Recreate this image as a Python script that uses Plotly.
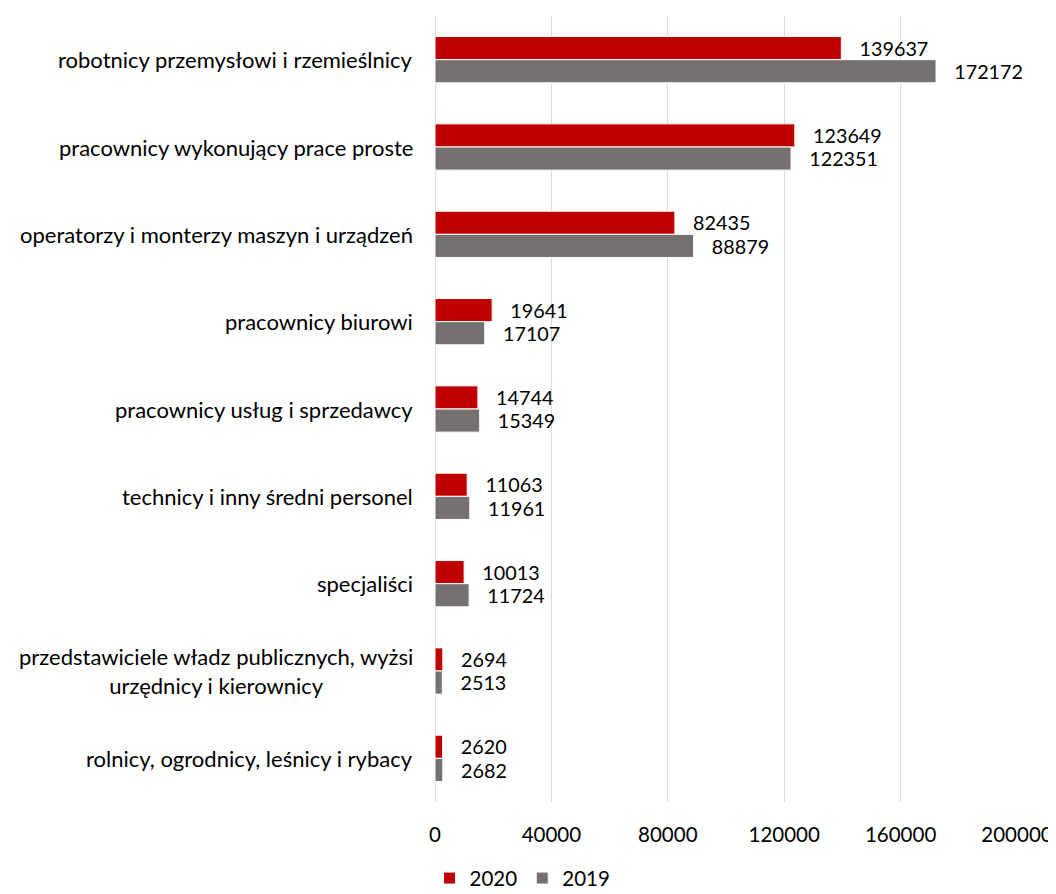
import plotly.graph_objects as go

categories = [
    "robotnicy przemysłowi i rzemieślnicy",
    "pracownicy wykonujący prace proste",
    "operatorzy i monterzy maszyn i urządzeń",
    "pracownicy biurowi",
    "pracownicy usług i sprzedawcy",
    "technicy i inny średni personel",
    "specjaliści",
    "przedstawiciele władz publicznych, wyżsi<br>urzędnicy i kierownicy",
    "rolnicy, ogrodnicy, leśnicy i rybacy",
]
values_2020 = [139637, 123649, 82435, 19641, 14744, 11063, 10013, 2694, 2620]
values_2019 = [172172, 122351, 88879, 17107, 15349, 11961, 11724, 2513, 2682]
x_ticks = [0, 40000, 80000, 120000, 160000, 200000]

FONT = "Lato"
NUM_SIZE = 20.5
pad = "\u00a0\u00a0\u00a0"

fig = go.Figure()
fig.add_trace(go.Bar(
    y=categories, x=values_2020, name="2020", orientation="h",
    marker=dict(color="#C00000", line=dict(color="white", width=1)),
    text=[pad + str(v) for v in values_2020], textposition="outside",
    textfont=dict(size=NUM_SIZE, color="#000000", family=FONT), cliponaxis=False,
))
fig.add_trace(go.Bar(
    y=categories, x=values_2019, name="2019", orientation="h",
    marker=dict(color="#767171", line=dict(color="white", width=1)),
    text=[pad + str(v) for v in values_2019], textposition="outside",
    textfont=dict(size=NUM_SIZE, color="#000000", family=FONT), cliponaxis=False,
))

for c in categories:
    fig.add_annotation(
        x=0, xref="paper", y=c, yref="y", text=c, showarrow=False,
        xanchor="right", yanchor="middle", align="center", xshift=-20,
        font=dict(family=FONT, size=22, color="#000000"),
    )

fig.update_layout(
    width=1048, height=886,
    barmode="group", bargap=0.47, bargroupgap=0.0,
    plot_bgcolor="white", paper_bgcolor="white",
    font=dict(family=FONT, size=NUM_SIZE, color="#000000"),
    margin=dict(l=427, r=39, t=8, b=92, autoexpand=False),
    showlegend=True,
    legend=dict(orientation="h", x=0.491, xref="container", xanchor="center",
                y=-0.097, yanchor="middle",
                font=dict(size=NUM_SIZE), traceorder="normal", itemwidth=30),
    xaxis=dict(range=[0, 200000], tickvals=x_ticks, ticktext=[str(t) for t in x_ticks],
               showgrid=True, gridcolor="#D9D9D9", gridwidth=1, zeroline=True,
               zerolinecolor="#D9D9D9", zerolinewidth=1, showline=False, automargin=False,
               ticks="", ticklabelstandoff=18, tickfont=dict(size=NUM_SIZE)),
    yaxis=dict(autorange="reversed", showgrid=False, ticks="", showline=False,
               showticklabels=False, automargin=False),
)

fig.write_html("out.html")
